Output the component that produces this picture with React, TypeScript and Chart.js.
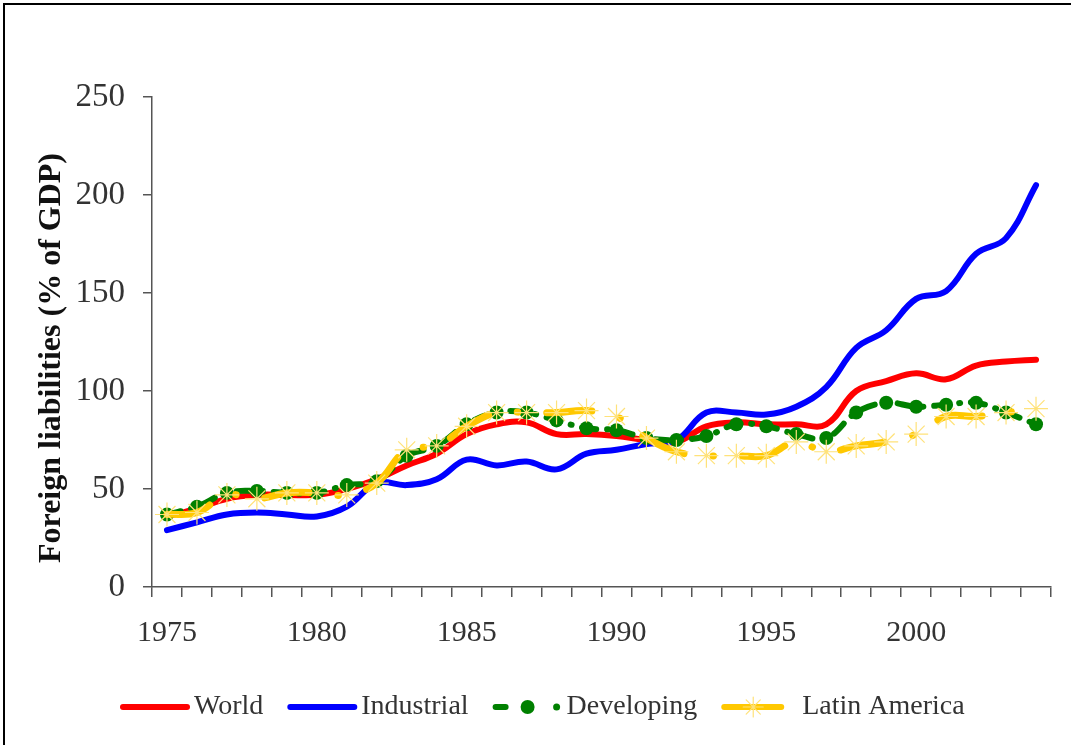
import React, { useEffect, useRef } from 'react';
import { Chart, registerables } from 'chart.js';

Chart.register(...registerables);

const years = [
  '1975', '1976', '1977', '1978', '1979', '1980', '1981', '1982', '1983', '1984',
  '1985', '1986', '1987', '1988', '1989', '1990', '1991', '1992', '1993', '1994',
  '1995', '1996', '1997', '1998', '1999', '2000', '2001', '2002', '2003', '2004',
];

const world = [36, 40, 45, 47, 47, 47, 50, 55, 62, 68, 78, 83, 84, 78, 78, 77, 75, 74, 82, 84, 83, 83, 83, 100, 105, 109, 106, 113, 115, 116];
const industrial = [29, 33, 37, 38, 37, 36, 41, 53, 52, 55, 65, 62, 64, 60, 68, 70, 73, 75, 89, 89, 88, 92, 102, 122, 131, 147, 151, 170, 178, 205];
const developing = [37, 41, 48, 49, 48, 48, 52, 54, 67, 72, 83, 89, 89, 85, 81, 80, 76, 75, 77, 83, 82, 78, 76, 89, 94, 92, 93, 94, 89, 83];
const latinAmerica = [37, 38, 47, 45, 48, 48, 47, 53, 70, 72, 82, 89, 89, 89, 90, 87, 76, 69, 67, 67, 67, 74, 69, 72, 74, 78, 87, 87, 89, 91];

const yTicks = [0, 50, 100, 150, 200, 250];
const seriesNames = ['World', 'Industrial', 'Developing', 'Latin America'];
const yTitle = 'Foreign liabilities (% of GDP)';

const FONT = '"Liberation Serif", "Times New Roman", serif';
const TEXT = '#333333';
const AXIS = '#555555';
const RED = '#FF0000';
const BLUE = '#0000FF';
const GREEN = '#008000';
const GOLD = '#FFC800';
const STAR = '#FFE27A';

function drawStar(ctx: CanvasRenderingContext2D, x: number, y: number, r: number) {
  ctx.save();
  ctx.strokeStyle = STAR;
  ctx.lineWidth = 1.2;
  ctx.beginPath();
  for (let k = 0; k < 4; k++) {
    const a = (k * Math.PI) / 4;
    ctx.moveTo(x - r * Math.cos(a), y - r * Math.sin(a));
    ctx.lineTo(x + r * Math.cos(a), y + r * Math.sin(a));
  }
  ctx.stroke();
  ctx.restore();
}

const legendPlugin = {
  id: 'customLegend',
  afterDraw(chart: any) {
    const ctx: CanvasRenderingContext2D = chart.ctx;
    ctx.save();
    // y-axis title
    ctx.save();
    ctx.translate(52, 358);
    ctx.rotate(-Math.PI / 2);
    ctx.font = `bold 32px ${FONT}`;
    ctx.fillStyle = '#111111';
    ctx.textAlign = 'center';
    ctx.textBaseline = 'middle';
    ctx.fillText(yTitle, 0, 0);
    ctx.restore();

    // legend
    ctx.font = `28px ${FONT}`;
    ctx.textBaseline = 'middle';
    ctx.textAlign = 'left';
    const y = 707;
    let x = 120;
    seriesNames.forEach((name, i) => {
      ctx.lineCap = 'round';
      ctx.lineWidth = 6;
      if (i === 0 || i === 1) {
        ctx.strokeStyle = i === 0 ? RED : BLUE;
        ctx.beginPath();
        ctx.moveTo(x + 3, y);
        ctx.lineTo(x + 67, y);
        ctx.stroke();
      } else if (i === 2) {
        ctx.strokeStyle = GREEN;
        ctx.fillStyle = GREEN;
        ctx.beginPath();
        ctx.moveTo(x + 3, y);
        ctx.lineTo(x + 13, y);
        ctx.stroke();
        ctx.beginPath();
        ctx.arc(x + 35, y, 7, 0, Math.PI * 2);
        ctx.fill();
        ctx.beginPath();
        ctx.arc(x + 64, y, 3.5, 0, Math.PI * 2);
        ctx.fill();
      } else {
        ctx.strokeStyle = GOLD;
        ctx.beginPath();
        ctx.moveTo(x + 3, y);
        ctx.lineTo(x + 60, y);
        ctx.stroke();
        drawStar(ctx, x + 32, y, 10);
      }
      const label = i === 3 ? ' ' + name : name;
      ctx.fillStyle = TEXT;
      ctx.fillText(label, x + 74, y);
      x += 74 + ctx.measureText(label).width + 24;
    });
    ctx.restore();
  },
};

export default function App() {
  const ref = useRef<HTMLCanvasElement>(null);

  useEffect(() => {
    if (!ref.current) return;
    const chart = new Chart(ref.current, {
      type: 'line',
      data: {
        labels: years,
        datasets: [
          {
            label: seriesNames[0],
            data: world,
            borderColor: RED,
            borderWidth: 6,
            pointRadius: 0,
            tension: 0.4,
            borderCapStyle: 'round',
            order: 3,
          },
          {
            label: seriesNames[1],
            data: industrial,
            borderColor: BLUE,
            borderWidth: 6,
            pointRadius: 0,
            tension: 0.4,
            borderCapStyle: 'round',
            order: 2,
          },
          {
            label: seriesNames[2],
            data: developing,
            borderColor: GREEN,
            borderWidth: 6,
            borderDash: [14, 11, 1, 11],
            borderCapStyle: 'round',
            pointStyle: 'circle',
            pointRadius: 7,
            pointBackgroundColor: GREEN,
            pointBorderColor: GREEN,
            pointBorderWidth: 0,
            tension: 0.4,
            order: 1,
          },
          {
            label: seriesNames[3],
            data: latinAmerica,
            borderColor: GOLD,
            borderWidth: 7,
            borderDash: [45, 29, 0.5, 29],
            borderCapStyle: 'round',
            pointStyle: 'star',
            pointRadius: 12,
            pointBorderColor: STAR,
            pointBackgroundColor: STAR,
            pointBorderWidth: 1.2,
            tension: 0.4,
            order: 0,
          },
        ],
      },
      options: {
        animation: false,
        responsive: false,
        maintainAspectRatio: false,
        events: [],
        layout: { padding: { left: 0, right: 20, top: 97, bottom: 0 } },
        plugins: {
          legend: { display: false },
          tooltip: { enabled: false },
        },
        scales: {
          x: {
            offset: true,
            grid: {
              offset: true,
              drawOnChartArea: false,
              drawTicks: true,
              tickLength: 10,
              color: AXIS,
              lineWidth: 1.5,
            },
            border: { color: AXIS, width: 1.5 },
            ticks: {
              autoSkip: false,
              maxRotation: 0,
              minRotation: 0,
              callback: (_v: any, i: number) => (i % 5 === 0 ? years[i] : ''),
              font: { family: FONT, size: 30 },
              color: TEXT,
              padding: 18,
            },
            afterFit: (s: any) => {
              s.height = 158;
            },
          },
          y: {
            min: yTicks[0],
            max: yTicks[yTicks.length - 1],
            afterBuildTicks: (s: any) => {
              s.ticks = yTicks.map((v) => ({ value: v }));
            },
            grid: {
              drawOnChartArea: false,
              drawTicks: true,
              tickLength: 9,
              color: AXIS,
              lineWidth: 1.5,
            },
            border: { color: AXIS, width: 1.5 },
            ticks: {
              font: { family: FONT, size: 33 },
              color: TEXT,
              padding: 18,
            },
            afterFit: (s: any) => {
              s.width = 152;
            },
          },
        },
      },
      plugins: [legendPlugin],
    } as any);
    return () => chart.destroy();
  }, []);

  return (
    <div style={{ position: 'fixed', left: 0, top: 0, width: 1071, height: 745, background: '#fff' }}>
      <canvas ref={ref} width={1071} height={745} style={{ display: 'block', width: 1071, height: 745 }} />
      <div
        style={{
          position: 'absolute',
          left: 3,
          top: 3,
          right: -10,
          bottom: -10,
          borderLeft: '2px solid #000',
          borderTop: '2px solid #000',
          pointerEvents: 'none',
        }}
      />
    </div>
  );
}
